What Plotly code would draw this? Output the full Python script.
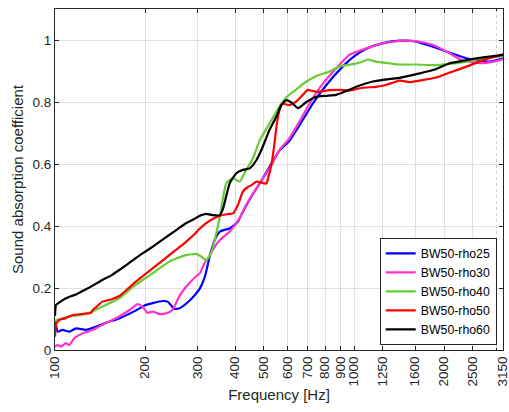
import math
import plotly.graph_objects as go

# ---- data ----
tick_vals = [100, 200, 300, 400, 500, 600, 700, 800, 900, 1000, 1250, 1600, 2000, 2500, 3150]
tick_text = ["100", "200", "300", "400", "500", "600", "700", "800", "900", "1000",
             "1250", "1600", "2000", "2500", "3150"]
y_tick_vals = [0, 0.2, 0.4, 0.6, 0.8, 1.0]
y_tick_text = ["0", "0.2", "0.4", "0.6", "0.8", "1"]

f_rho25 = [100, 101, 102, 106, 111.7, 117.6, 127, 137, 148, 164,
           186, 201, 212, 229, 238, 244, 250, 260, 281, 295,
           305, 317, 329, 342, 356, 370, 384, 409, 425, 454,
           484, 522, 563, 608, 660, 728, 808, 918, 1000, 1100,
           1250, 1422, 1617, 1838, 2090, 2377, 2560, 2840, 3150]
a_rho25 = [0.091, 0.075, 0.059, 0.065, 0.059, 0.07, 0.065, 0.075, 0.088, 0.102,
           0.127, 0.145, 0.151, 0.158, 0.156, 0.145, 0.133, 0.134, 0.158, 0.18,
           0.198, 0.236, 0.301, 0.355, 0.382, 0.388, 0.392, 0.414, 0.446, 0.495,
           0.538, 0.591, 0.643, 0.675, 0.728, 0.795, 0.855, 0.915, 0.947, 0.972,
           0.99, 0.998, 0.995, 0.978, 0.959, 0.941, 0.935, 0.93, 0.941]

f_rho30 = [100, 102, 104.7, 108.8, 111.7, 116, 124, 134, 144, 164,
           177.5, 189, 196, 204, 212, 223, 235, 247, 260, 274.5,
           296, 305, 316, 325, 342, 356, 384, 414, 436, 472,
           522, 563, 608, 660, 711, 788, 893, 964, 1100, 1250,
           1422, 1617, 1838, 2090, 2258, 2440, 2700, 2920, 3150]
a_rho30 = [0.011, 0.016, 0.011, 0.022, 0.016, 0.038, 0.054, 0.065, 0.081, 0.108,
           0.129, 0.148, 0.14, 0.12, 0.124, 0.116, 0.118, 0.129, 0.172, 0.204,
           0.237, 0.247, 0.28, 0.296, 0.333, 0.355, 0.382, 0.425, 0.468, 0.522,
           0.586, 0.645, 0.683, 0.74, 0.796, 0.86, 0.919, 0.952, 0.973, 0.989,
           0.997, 0.996, 0.984, 0.957, 0.938, 0.93, 0.925, 0.93, 0.938]

f_rho40 = [100, 106, 114.6, 127, 144, 164, 186, 212, 241, 274,
           297, 310, 320, 332, 345, 356, 374, 394, 414, 436,
           459, 484, 522, 563, 594, 640, 684, 748, 827, 893,
           989, 1068, 1110, 1185, 1313, 1422, 1617, 1838, 2090, 2377,
           2700, 3150]
a_rho40 = [0.095, 0.102, 0.11, 0.116, 0.14, 0.167, 0.21, 0.247, 0.285, 0.306,
           0.31, 0.30, 0.29, 0.31, 0.37, 0.43, 0.538, 0.554, 0.543, 0.581,
           0.618, 0.677, 0.731, 0.785, 0.815, 0.84, 0.862, 0.884, 0.898, 0.914,
           0.922, 0.930, 0.937, 0.93, 0.925, 0.921, 0.921, 0.919, 0.923, 0.930,
           0.941, 0.948]

f_rho50 = [100, 101, 103.5, 108, 114.6, 121, 127, 132, 134, 138,
           144, 154, 164, 175, 186, 198, 212, 226, 241, 257,
           274, 290, 305, 329, 356, 375, 394, 409, 425, 440,
           454, 472, 490, 509, 518, 530, 541, 552, 562, 578,
           608, 640, 674, 700, 728, 766, 827, 893, 964, 1068,
           1185, 1279, 1422, 1534, 1700, 1886, 2090, 2377, 2700, 3150]
a_rho50 = [0.043, 0.085, 0.097, 0.102, 0.113, 0.115, 0.118, 0.12, 0.13, 0.14,
           0.156, 0.163, 0.174, 0.197, 0.22, 0.241, 0.263, 0.284, 0.306, 0.327,
           0.349, 0.37, 0.392, 0.417, 0.433, 0.438, 0.441, 0.468, 0.511, 0.525,
           0.532, 0.543, 0.540, 0.537, 0.56, 0.60, 0.66, 0.73, 0.77, 0.794,
           0.79, 0.801, 0.823, 0.839, 0.835, 0.833, 0.838, 0.839, 0.837, 0.846,
           0.849, 0.855, 0.869, 0.864, 0.871, 0.879, 0.895, 0.914, 0.935, 0.954]

f_rho60 = [100, 100.8, 104, 108.8, 118, 127, 135, 144, 154, 164,
           175, 186, 198, 212, 226, 241, 257, 274, 290, 304,
           320, 337, 356, 365, 384, 404, 425, 448, 472, 490,
           522, 550, 571, 594, 618, 650, 693, 748, 808, 871,
           941, 1018, 1157, 1313, 1422, 1617, 1838, 2090, 2377, 2700, 3150]
a_rho60 = [0.11, 0.145, 0.155, 0.167, 0.18, 0.196, 0.21, 0.226, 0.24, 0.258,
           0.277, 0.296, 0.314, 0.333, 0.352, 0.371, 0.39, 0.409, 0.421, 0.432,
           0.439, 0.435, 0.435, 0.457, 0.538, 0.570, 0.581, 0.586, 0.613, 0.645,
           0.71, 0.753, 0.79, 0.806, 0.798, 0.78, 0.80, 0.817, 0.82, 0.823,
           0.835, 0.849, 0.866, 0.874, 0.878, 0.89, 0.903, 0.925, 0.935, 0.944, 0.952]

series = [
    ("BW50-rho25", f_rho25, a_rho25, "rgb(0,0,255)"),
    ("BW50-rho30", f_rho30, a_rho30, "rgb(255,51,204)"),
    ("BW50-rho40", f_rho40, a_rho40, "rgb(102,204,51)"),
    ("BW50-rho50", f_rho50, a_rho50, "rgb(255,0,0)"),
    ("BW50-rho60", f_rho60, a_rho60, "rgb(0,0,0)"),
]

FONT = "Liberation Sans, Arial, sans-serif"
TXT = "#262626"
GRID = "#dfdfdf"

fig = go.Figure()
for name, fx, ay, col in series:
    fig.add_trace(go.Scatter(x=fx, y=ay, mode="lines", name=name,
                             line=dict(color=col, width=2.2, shape="spline", smoothing=0.5)))

fig.update_layout(
    width=509, height=412,
    margin=dict(l=55, r=6, t=9, b=62, autoexpand=False),
    paper_bgcolor="white", plot_bgcolor="white",
    font=dict(family=FONT, color=TXT, size=13.5),
    showlegend=True,
    legend=dict(x=0.986, xanchor="right", y=0.015, yanchor="bottom",
                bgcolor="white", bordercolor=TXT, borderwidth=1,
                font=dict(size=12.3, color="#000000", family=FONT),
                tracegroupgap=0),
)

x_hi = math.log10(max(tick_vals)) + 1e-5

fig.update_xaxes(
    type="log", range=[2, x_hi], automargin=False,
    tickmode="array", tickvals=tick_vals, ticktext=tick_text, tickangle=-90,
    tickfont=dict(size=13.5, color=TXT), ticklabeloverflow="allow",
    showgrid=True, gridcolor=GRID, gridwidth=1,
    showline=True, linecolor=TXT, linewidth=1, mirror="ticks",
    ticks="inside", ticklen=4, tickcolor=TXT,
    minor=dict(tickmode="array", tickvals=[3000], showgrid=True, griddash="dot",
               gridcolor="#cfcfcf", ticks="inside", ticklen=2, tickcolor=TXT),
    title=dict(text="Frequency [Hz]", font=dict(size=15, color=TXT), standoff=4),
    zeroline=False,
)
fig.update_yaxes(
    range=[0, 1.1], automargin=False,
    tickmode="array", tickvals=y_tick_vals, ticktext=y_tick_text,
    tickfont=dict(size=13.5, color=TXT),
    showgrid=True, gridcolor=GRID, gridwidth=1,
    showline=True, linecolor=TXT, linewidth=1, mirror="ticks",
    ticks="inside", ticklen=4, tickcolor=TXT,
    title=dict(text="Sound absorption coefficient", font=dict(size=15, color=TXT), standoff=5),
    zeroline=False,
)

fig.write_html("out.html")
